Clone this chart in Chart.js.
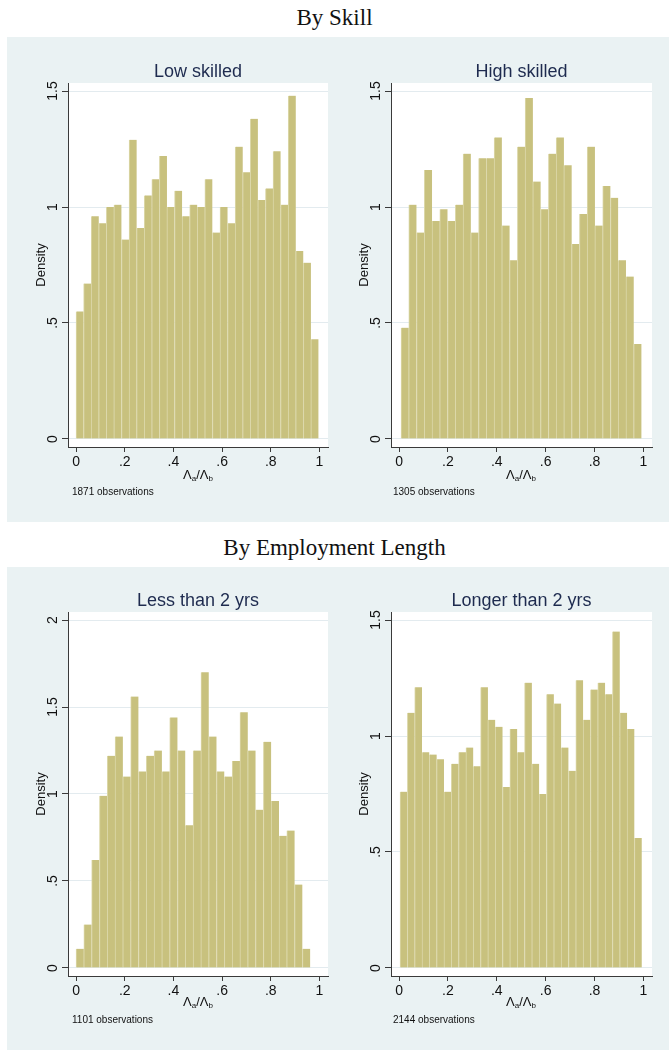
<!DOCTYPE html>
<html>
<head>
<meta charset="utf-8">
<script src="https://cdn.jsdelivr.net/npm/chart.js@4.4.0/dist/chart.umd.min.js"></script>
<style>
  html, body { margin: 0; padding: 0; background: #ffffff; }
  body { width: 669px; height: 1050px; position: relative; overflow: hidden;
         font-family: "Liberation Sans", Arial, sans-serif; }
  .section-title { position: absolute; left: 0; width: 669px; text-align: center;
         font-family: "Liberation Serif", "Times New Roman", serif; font-size: 23px;
         color: #111; line-height: 24px; }
  .region { position: absolute; left: 7px; width: 662px; background: #eaf2f3; }
  canvas { position: absolute; }
  .xtitle { position: absolute; font-size: 13px; color: #111; line-height: 1;
            transform: translate(-50%, -50%); white-space: nowrap; }
  .xtitle sub { font-size: 8px; vertical-align: -2px; line-height: 0; }
  .note { position: absolute; font-size: 10px; color: #111; line-height: 1;
          transform: translateY(-50%); white-space: nowrap; }
</style>
</head>
<body>
  <div class="section-title" style="top:6px">By Skill</div>
  <div class="region" style="top:37px;height:485px"></div>
  <div class="section-title" style="top:536px">By Employment Length</div>
  <div class="region" style="top:567px;height:483px"></div>

  <canvas id="lowSkill" width="326" height="485" style="left:8px;top:37px"></canvas>
  <canvas id="highSkill" width="338" height="485" style="left:331px;top:37px"></canvas>
  <canvas id="shortTenure" width="326" height="483" style="left:8px;top:567px"></canvas>
  <canvas id="longTenure" width="338" height="483" style="left:331px;top:567px"></canvas>

  <div class="xtitle" style="left:198px;top:474px">Λ<sub>a</sub>/Λ<sub>b</sub></div>
  <div class="xtitle" style="left:521px;top:474px">Λ<sub>a</sub>/Λ<sub>b</sub></div>
  <div class="xtitle" style="left:198px;top:1001px">Λ<sub>a</sub>/Λ<sub>b</sub></div>
  <div class="xtitle" style="left:521px;top:1001px">Λ<sub>a</sub>/Λ<sub>b</sub></div>

  <div class="note" style="left:72px;top:492px">1871 observations</div>
  <div class="note" style="left:393px;top:492px">1305 observations</div>
  <div class="note" style="left:72px;top:1020px">1101 observations</div>
  <div class="note" style="left:393px;top:1020px">2144 observations</div>

<script>
// Histogram densities of the ratio, one value per bin (left to right)
const lowSkilledDensity = [0.55, 0.67, 0.96, 0.93, 1.00, 1.01, 0.86, 1.29, 0.91, 1.05, 1.12,
  1.22, 1.00, 1.07, 0.96, 1.01, 1.00, 1.12, 0.89, 1.00, 0.93, 1.26, 1.15, 1.38, 1.03, 1.08,
  1.24, 1.01, 1.48, 0.81, 0.76, 0.43];
const highSkilledDensity = [0.48, 1.01, 0.89, 1.16, 0.94, 0.99, 0.94, 1.01, 1.23, 0.89, 1.21,
  1.21, 1.30, 0.92, 0.77, 1.26, 1.47, 1.11, 0.99, 1.23, 1.30, 1.18, 0.84, 0.97, 1.26, 0.92,
  1.09, 1.04, 0.77, 0.70, 0.41];
const lessThan2Density = [0.11, 0.25, 0.62, 0.99, 1.22, 1.33, 1.10, 1.56, 1.13, 1.22, 1.25,
  1.13, 1.44, 1.25, 0.82, 1.25, 1.70, 1.33, 1.13, 1.10, 1.19, 1.47, 1.25, 0.91, 1.30, 0.96,
  0.76, 0.79, 0.48, 0.11];
const longerThan2Density = [0.76, 1.10, 1.21, 0.93, 0.92, 0.90, 0.76, 0.88, 0.93, 0.95, 0.87,
  1.21, 1.07, 1.04, 0.78, 1.03, 0.93, 1.23, 0.88, 0.75, 1.18, 1.14, 0.95, 0.85, 1.24, 1.07,
  1.20, 1.23, 1.18, 1.45, 1.10, 1.03, 0.56];

// Range covered by the bins of each histogram [first bin start, last bin end]
const lowSkilledRange = [0.000, 0.996];
const highSkilledRange = [0.008, 0.992];
const lessThan2Range = [0.000, 0.962];
const longerThan2Range = [0.004, 0.993];

// Axis ticks
const xTickValues = [0, 0.2, 0.4, 0.6, 0.8, 1];
const xTickLabels = ['0', '.2', '.4', '.6', '.8', '1'];
const yTicksTo15 = [0, 0.5, 1, 1.5];
const yLabelsTo15 = ['0', '.5', '1', '1.5'];
const yTicksTo2 = [0, 0.5, 1, 1.5, 2];
const yLabelsTo2 = ['0', '.5', '1', '1.5', '2'];

const FONT = '"Liberation Sans", Arial, sans-serif';
const BAR_FILL = '#c8c17e';
const BAR_EDGE = '#dcd8aa';
const AXIS = '#3a3a3a';
const GRID = '#e3ebef';
const TITLE_COLOR = '#1e2b4f';

const plotBackground = {
  id: 'plotBackground',
  beforeDraw(chart) {
    const { ctx, chartArea: a } = chart;
    ctx.save();
    ctx.fillStyle = '#ffffff';
    ctx.fillRect(a.left, a.top, a.right - a.left, a.bottom - a.top);
    ctx.restore();
  }
};

function histogram(id, o) {
  const n = o.density.length;
  const w = (o.range[1] - o.range[0]) / n;
  const points = o.density.map((d, i) => ({ x: o.range[0] + (i + 0.5) * w, y: d }));
  return new Chart(document.getElementById(id), {
    type: 'bar',
    data: {
      datasets: [{
        data: points,
        backgroundColor: BAR_FILL,
        borderColor: BAR_EDGE,
        borderWidth: { left: 1, top: 0, right: 0, bottom: 0 },
        borderSkipped: false,
        barPercentage: 1,
        categoryPercentage: 1,
        grouped: false
      }]
    },
    options: {
      responsive: false,
      animation: false,
      devicePixelRatio: 1,
      layout: { padding: { top: o.padTop, right: o.padRight, bottom: 0, left: 0 } },
      plugins: {
        legend: { display: false },
        tooltip: { enabled: false },
        title: {
          display: true, text: o.title, fullSize: false, padding: 0,
          color: TITLE_COLOR, font: { family: FONT, size: 18, weight: 'normal' }
        }
      },
      scales: {
        x: {
          type: 'linear', min: -0.033, max: 1.035, offset: false,
          afterBuildTicks: s => { s.ticks = xTickValues.map(v => ({ value: v })); },
          afterFit: s => { s.height = o.xAxisHeight; },
          ticks: {
            callback: (v, i) => xTickLabels[i], autoSkip: false,
            minRotation: 0, maxRotation: 0, padding: 2.1,
            color: '#111', font: { family: FONT, size: 14 }
          },
          grid: {
            drawOnChartArea: false, drawTicks: true, tickLength: 5,
            tickColor: AXIS, offset: false
          },
          border: { display: true, color: AXIS, width: 1 }
        },
        y: {
          type: 'linear', min: o.yMin, max: o.yMax,
          afterBuildTicks: s => { s.ticks = o.yTicks.map(v => ({ value: v })); },
          afterFit: s => { s.width = 60; },
          ticks: {
            callback: (v, i) => o.yLabels[i], autoSkip: false,
            minRotation: 90, maxRotation: 90, crossAlign: 'center', padding: -1.2,
            color: '#111', font: { family: FONT, size: 14 }
          },
          grid: { color: GRID, lineWidth: 1, drawTicks: true, tickLength: 6, tickColor: AXIS },
          border: { display: true, color: AXIS, width: 1 },
          title: {
            display: true, text: 'Density', color: '#111',
            font: { family: FONT, size: 13 }, padding: { top: 25.2, bottom: 0 }
          }
        }
      }
    },
    plugins: [plotBackground]
  });
}

histogram('lowSkill', {
  title: 'Low skilled', density: lowSkilledDensity, range: lowSkilledRange,
  yMin: -0.0345, yMax: 1.5345, yTicks: yTicksTo15, yLabels: yLabelsTo15,
  padTop: 24.4, padRight: 6, xAxisHeight: 75
});
histogram('highSkill', {
  title: 'High skilled', density: highSkilledDensity, range: highSkilledRange,
  yMin: -0.0345, yMax: 1.5345, yTicks: yTicksTo15, yLabels: yLabelsTo15,
  padTop: 24.4, padRight: 17, xAxisHeight: 75
});
histogram('shortTenure', {
  title: 'Less than 2 yrs', density: lessThan2Density, range: lessThan2Range,
  yMin: -0.046, yMax: 2.046, yTicks: yTicksTo2, yLabels: yLabelsTo2,
  padTop: 23.4, padRight: 6, xAxisHeight: 74
});
histogram('longTenure', {
  title: 'Longer than 2 yrs', density: longerThan2Density, range: longerThan2Range,
  yMin: -0.0345, yMax: 1.5345, yTicks: yTicksTo15, yLabels: yLabelsTo15,
  padTop: 23.4, padRight: 17, xAxisHeight: 74
});
</script>
</body>
</html>
